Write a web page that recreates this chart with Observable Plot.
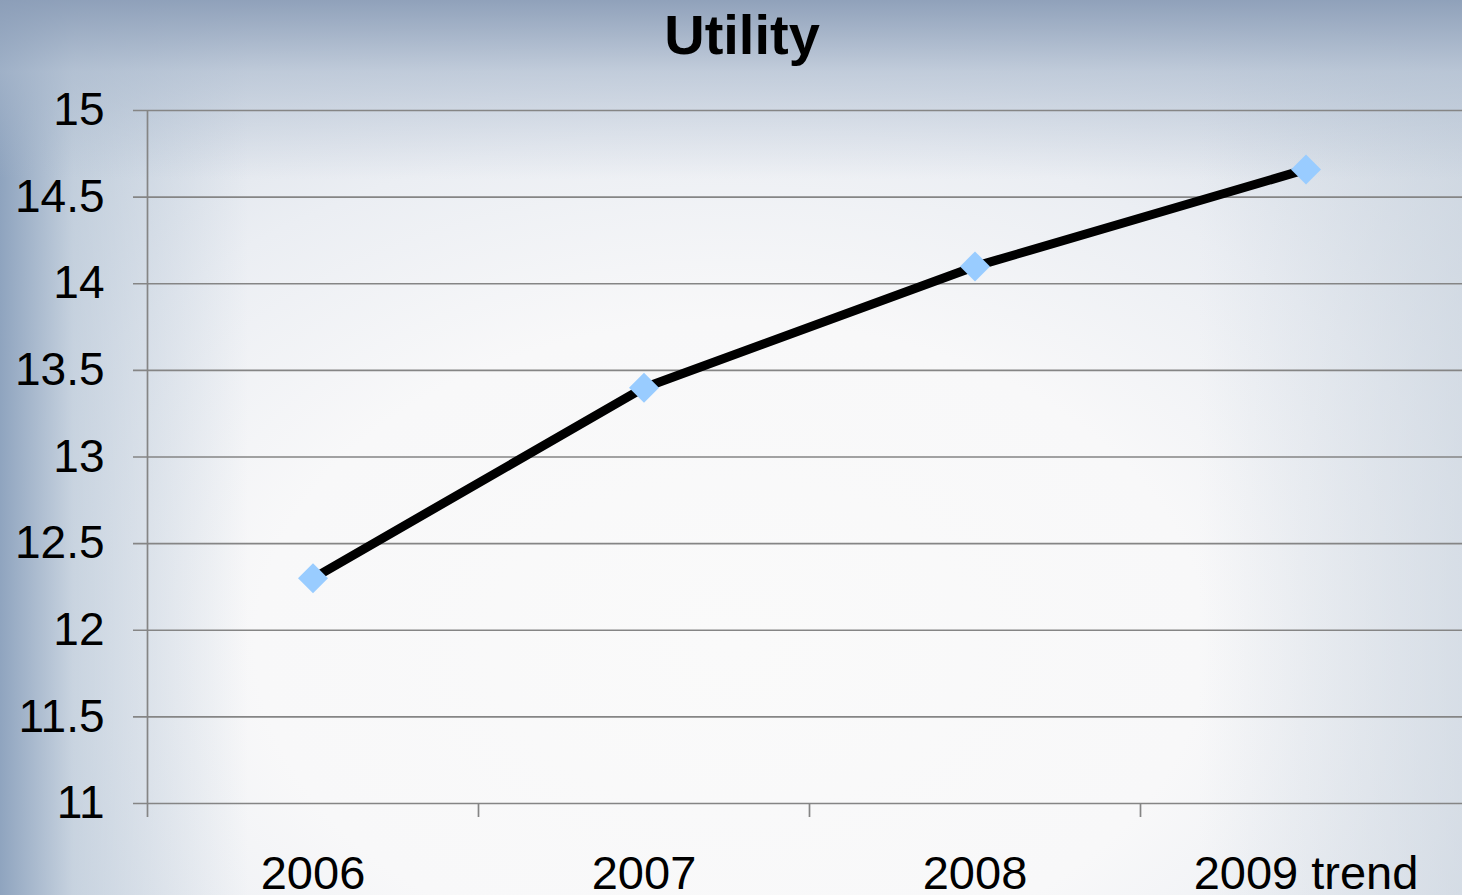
<!DOCTYPE html>
<html>
<head>
<meta charset="utf-8">
<script src="https://cdn.jsdelivr.net/npm/d3@7"></script>
<script src="https://cdn.jsdelivr.net/npm/@observablehq/plot@0.6"></script>
<style>
  html, body { margin: 0; padding: 0; }
  #wrap {
    position: relative; width: 1462px; height: 895px; overflow: hidden;
    font-family: "Liberation Sans", Arial, sans-serif;
    background:
      linear-gradient(to bottom, rgba(140,158,184,0.95) 0%, rgba(170,185,205,0.6) 8%, rgba(220,226,234,0.0) 20%),
      linear-gradient(to right, rgba(138,160,188,0.95) 0%, rgba(175,192,210,0.6) 5%, rgba(220,226,234,0.0) 17%, rgba(220,226,234,0.0) 82%, rgba(200,210,221,0.6) 100%),
      radial-gradient(ellipse 72% 80% at 50% 72%, #fafafa 0%, #f8f8f9 45%, #ebeef3 72%, #d8dfe8 100%);
  }
  #title {
    position: absolute; left: 11px; width: 1462px; top: 7px; text-align: center;
    font-size: 56px; font-weight: bold; line-height: 56px; color: #000;
  }
  #chart { position: absolute; left: 0; top: 75px; }
</style>
</head>
<body>
<div id="wrap">
  <div id="title">Utility</div>
  <div id="chart"></div>
</div>
<script>
const years = ["2006", "2007", "2008", "2009 trend"];
const values = [12.3, 13.4, 14.1, 14.66];
const yTicks = [11, 11.5, 12, 12.5, 13, 13.5, 14, 14.5, 15];

const data = years.map((year, i) => ({year, pos: i + 0.5, value: values[i]}));
const centerTicks = data.map(d => d.pos);
const boundaryTicks = d3.range(0, years.length + 1);

const plot = Plot.plot({
  width: 1462,
  height: 820,
  marginLeft: 133,
  marginRight: 0,
  marginTop: 35,
  marginBottom: 92,
  style: {background: "transparent", fontFamily: "'Liberation Sans', Arial, sans-serif", color: "#000", overflow: "visible"},
  x: {domain: [0, years.length], range: [147, 1471]},
  y: {domain: [11, 15]},
  marks: [
    Plot.gridY(yTicks, {stroke: "#858585", strokeOpacity: 1, strokeWidth: 1.7}),
    Plot.axisY({ticks: yTicks, tickSize: 0, tickPadding: 29, fontSize: 46, tickFormat: d => String(d), label: null}),
    Plot.ruleX([0], {y1: 11, y2: 15, stroke: "#858585", strokeWidth: 1.7}),
    Plot.axisX({ticks: boundaryTicks, tickSize: 14, tickFormat: () => "", stroke: "#858585", strokeWidth: 1.7, strokeOpacity: 1, label: null}),
    Plot.axisX({ticks: centerTicks, tickSize: 0, tickPadding: 52, fontSize: 47, tickFormat: d => years[Math.floor(d)], label: null}),
    Plot.line(data, {x: "pos", y: "value", stroke: "#000", strokeWidth: 9, strokeLinejoin: "miter", strokeLinecap: "butt"}),
    Plot.dot(data, {x: "pos", y: "value", symbol: "diamond2", r: 13.5, fill: "#99ccff", stroke: "none"})
  ]
});
document.getElementById("chart").appendChild(plot);
</script>
</body>
</html>
